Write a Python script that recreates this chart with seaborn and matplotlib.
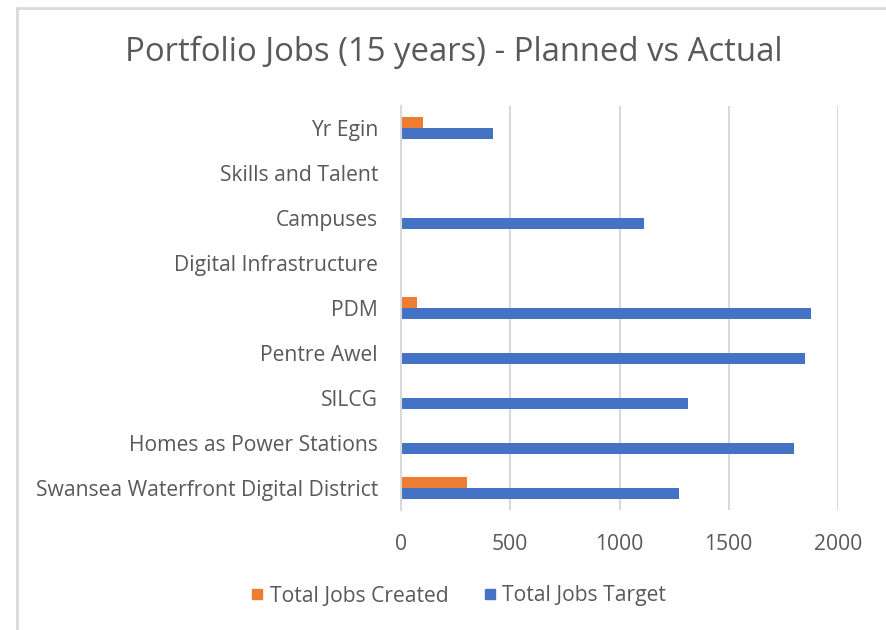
import pandas as pd
import matplotlib.pyplot as plt
import seaborn as sns
from matplotlib.lines import Line2D

# data
projects = [
    "Yr Egin",
    "Skills and Talent",
    "Campuses",
    "Digital Infrastructure",
    "PDM",
    "Pentre Awel",
    "SILCG",
    "Homes as Power Stations",
    "Swansea Waterfront Digital District",
]
jobs_created = [100, 0, 0, 0, 72, 0, 0, 0, 300]
jobs_target = [421, 0, 1113, 0, 1875, 1848, 1314, 1798, 1274]

series = ["Total Jobs Created", "Total Jobs Target"]
colors = ["#ED7D31", "#4472C4"]

df = pd.DataFrame({
    "project": projects * 2,
    "jobs": jobs_created + jobs_target,
    "series": [series[0]] * len(projects) + [series[1]] * len(projects),
})

sns.set_style("white")
plt.rcParams["font.family"] = ["Open Sans", "DejaVu Sans"]

text_grey = "#595959"
grid_grey = "#D9D9D9"

fig = plt.figure(figsize=(8.87, 6.3), dpi=100)
ax = fig.add_axes([401 / 887, 1 - 510 / 630, 437 / 887, 404 / 630])

sns.barplot(
    data=df,
    x="jobs",
    y="project",
    hue="series",
    order=projects,
    hue_order=series,
    palette=colors,
    orient="h",
    width=0.49,
    gap=0,
    saturation=1,
    linewidth=0,
    errorbar=None,
    legend=False,
    ax=ax,
)

ax.set_xlim(0, 2000)
ax.set_ylim(len(projects) - 0.5, -0.5)
ax.set_xticks([0, 500, 1000, 1500, 2000])
ax.set_xlabel("")
ax.set_ylabel("")

ax.grid(axis="x", color=grid_grey, linewidth=1.5)
ax.set_axisbelow(True)
for side in ["top", "right", "bottom"]:
    ax.spines[side].set_visible(False)
ax.spines["left"].set_color(grid_grey)
ax.spines["left"].set_linewidth(1.5)

ax.tick_params(axis="both", length=0, labelsize=15.2, labelcolor=text_grey)
ax.tick_params(axis="y", pad=16.5)
ax.tick_params(axis="x", pad=17)

fig.text(0.511, 1 - 52 / 630, "Portfolio Jobs (15 years) - Planned vs Actual",
         ha="center", va="center", fontsize=23.7, color=text_grey)

handles = [Line2D([0], [0], marker="s", linestyle="", markersize=7.4,
                  markerfacecolor=c, markeredgecolor=c) for c in colors]
fig.legend(handles, series, loc="center", bbox_to_anchor=(0.517, 1 - 596 / 630),
           ncol=2, frameon=False, fontsize=15.2, labelcolor=text_grey,
           handlelength=0.6, handletextpad=0.3, columnspacing=1.65)

# chart border (left and top edges visible in the screenshot)
fig.add_artist(Line2D([17 / 887, 17 / 887], [0, 1 - 8 / 630],
                      transform=fig.transFigure, color=grid_grey, linewidth=2))
fig.add_artist(Line2D([17 / 887, 1], [1 - 8 / 630, 1 - 8 / 630],
                      transform=fig.transFigure, color=grid_grey, linewidth=2))

fig.savefig("out.png", dpi=100)
